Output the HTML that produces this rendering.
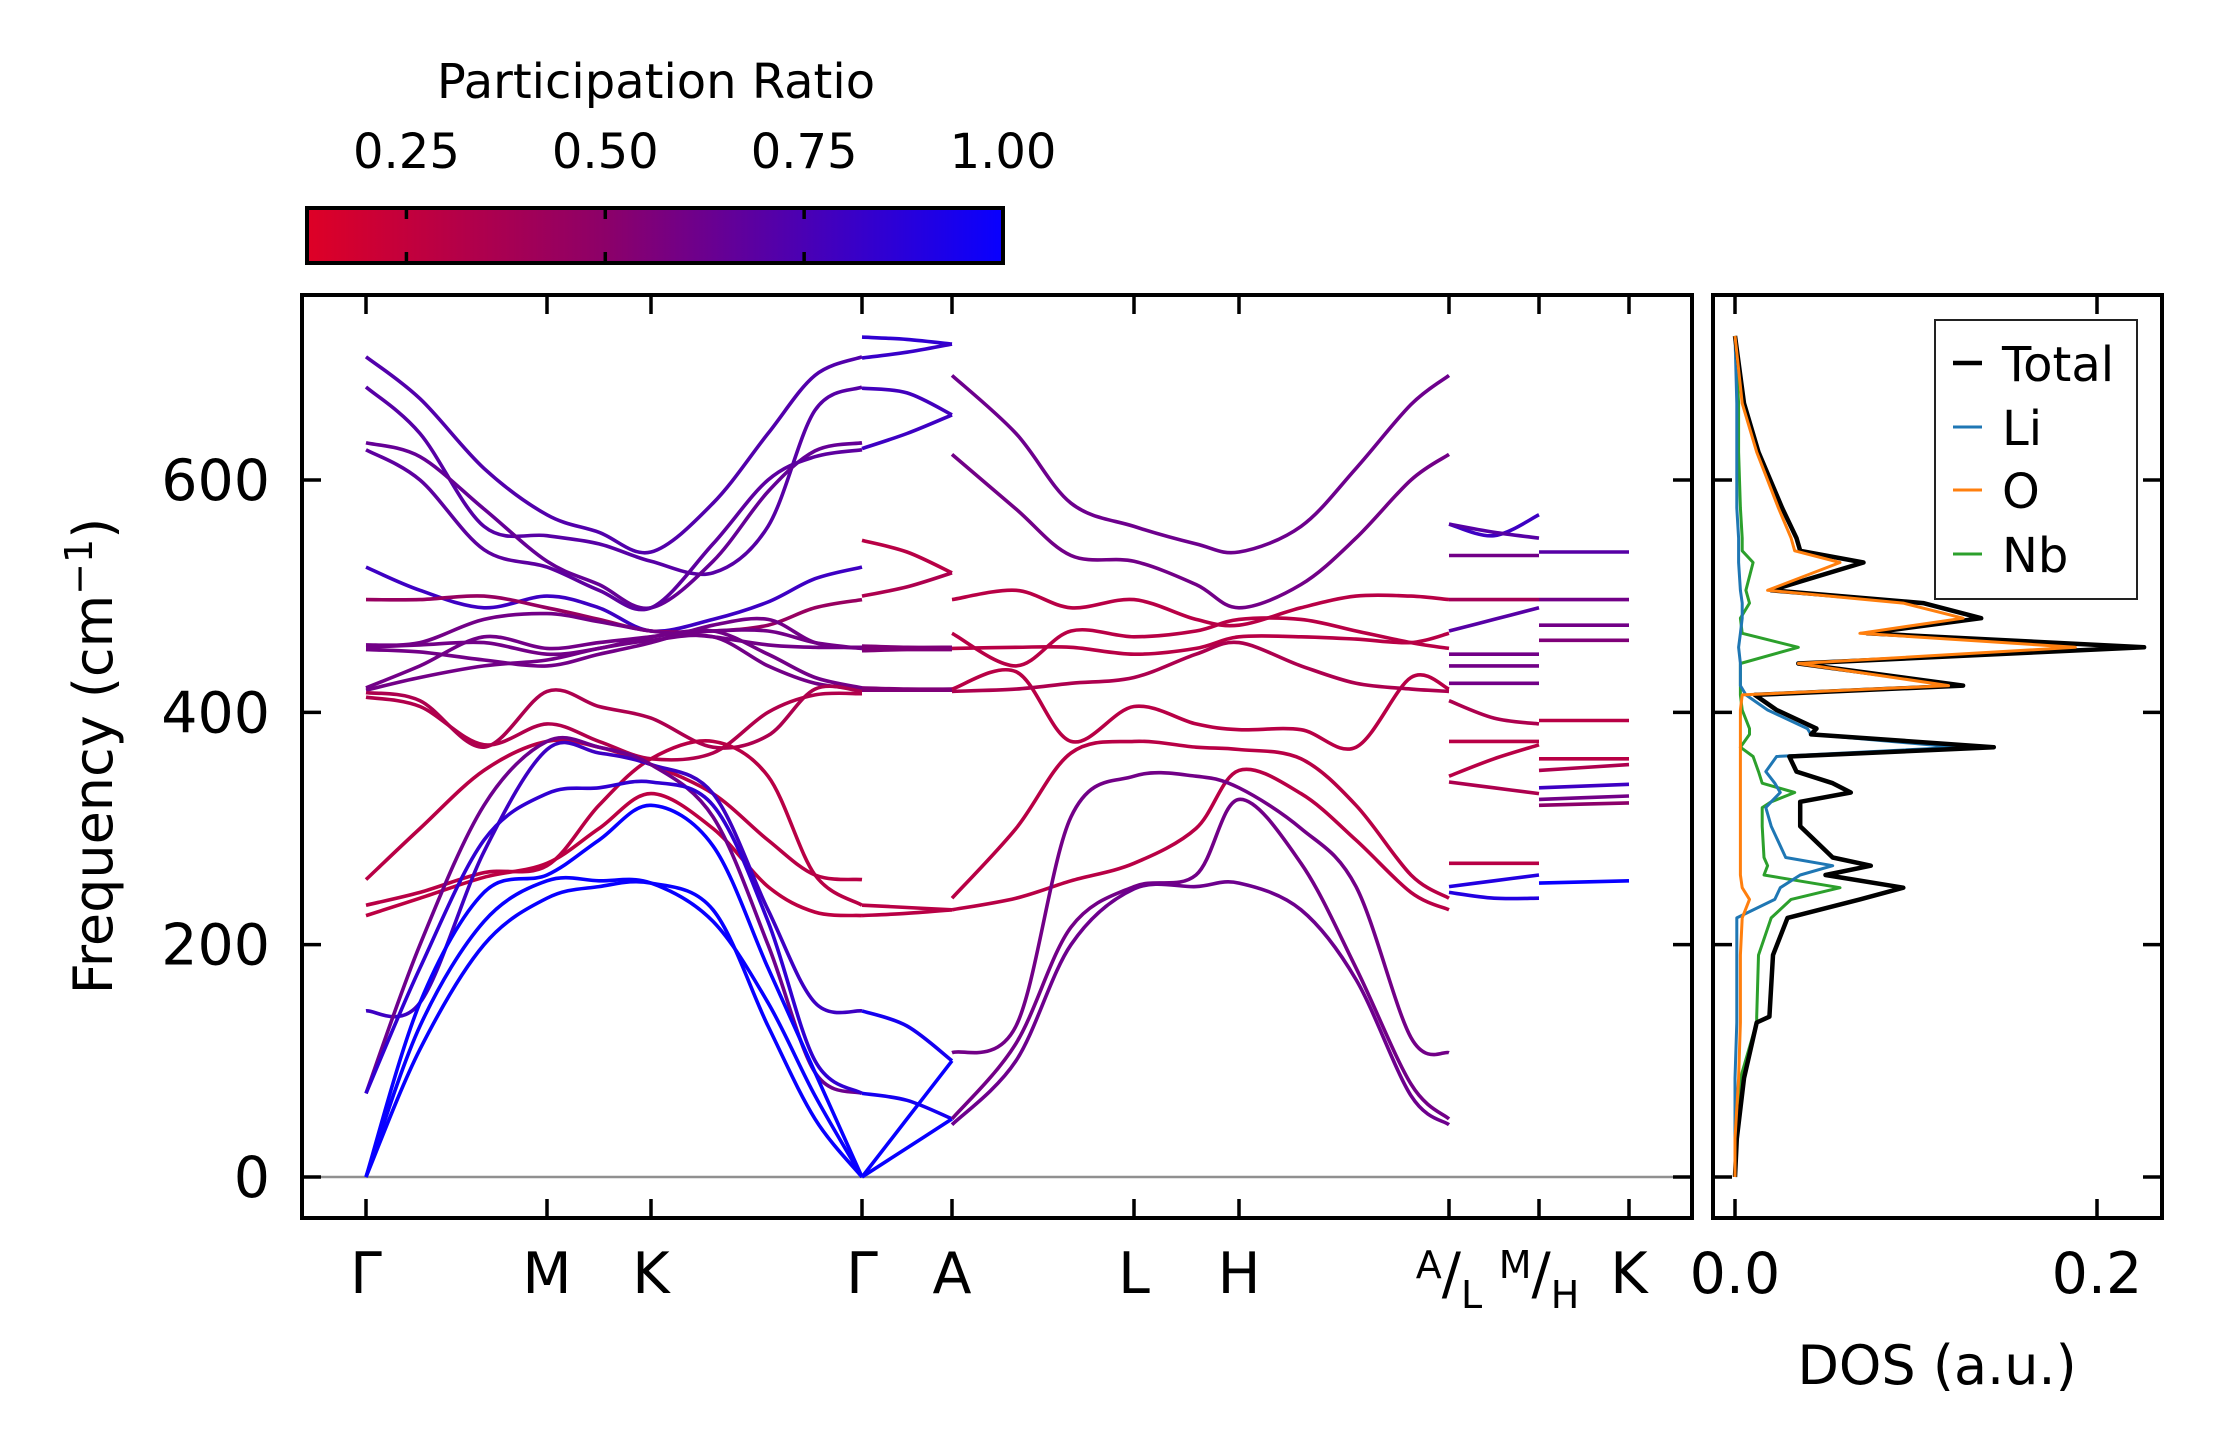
<!DOCTYPE html>
<html><head><meta charset="utf-8">
<style>
html,body{margin:0;padding:0;background:#fff;}
svg{display:block;font-family:"DejaVu Sans","Liberation Sans",sans-serif;}
</style></head>
<body>
<svg id="chart" width="2222" height="1455" viewBox="0 0 2222 1455" xmlns="http://www.w3.org/2000/svg">
<defs>
<linearGradient id="cbgrad" x1="0" x2="1" y1="0" y2="0">
<stop offset="0" stop-color="rgb(222,0,38)"/>
<stop offset="0.43" stop-color="rgb(140,0,105)"/>
<stop offset="1" stop-color="rgb(8,0,255)"/>
</linearGradient>
<clipPath id="clipMain"><rect x="302" y="295" width="1390" height="923"/></clipPath>
<clipPath id="clipDos"><rect x="1713" y="295" width="449" height="923"/></clipPath>
</defs>
<rect x="0" y="0" width="2222" height="1455" fill="#fff"/>

<text x="656" y="98" font-size="48" text-anchor="middle">Participation Ratio</text>
<g id="cb">
<rect x="307" y="208" width="696" height="55" fill="url(#cbgrad)" stroke="#000" stroke-width="4"/>
</g>
<g id="bands" clip-path="url(#clipMain)"></g>
<g id="dos" clip-path="url(#clipDos)"></g>
<g id="axes"></g>

<text transform="translate(112,756) rotate(-90)" font-size="54" text-anchor="middle">Frequency (cm<tspan dy="-20" font-size="38">−1</tspan><tspan dy="20">)</tspan></text>
<text x="1937" y="1384" font-size="54" text-anchor="middle">DOS (a.u.)</text>

<g>
<rect x="1935" y="320" width="202" height="279" fill="#fff" stroke="#222" stroke-width="2"/>
<line x1="1953" x2="1982" y1="363" y2="363" stroke="#000" stroke-width="4.5"/>
<text x="2002" y="381" font-size="48">Total</text>
<line x1="1953" x2="1982" y1="427" y2="427" stroke="#1f77b4" stroke-width="3"/>
<text x="2002" y="445" font-size="48">Li</text>
<line x1="1953" x2="1982" y1="490" y2="490" stroke="#ff7f0e" stroke-width="3"/>
<text x="2002" y="508" font-size="48">O</text>
<line x1="1953" x2="1982" y1="554" y2="554" stroke="#2ca02c" stroke-width="3"/>
<text x="2002" y="572" font-size="48">Nb</text>
</g>
</svg>
<script>
// ---- data ----
const kTickLabels = ["Γ","M","K","Γ","A","L","H","A/L","M/H","K"];
const kTicks = [0,181,285,496,586,768,873,1083,1173,1263];
const yTicks = [0,200,400,600];
const cbTicks = [0.25,0.5,0.75,1.0];
const cbTickLabels = ["0.25","0.50","0.75","1.00"];
const dosTicks = [0.0,0.2];
const dosTickLabels = ["0.0","0.2"];

// segment 1: Γ-M-K-Γ
const seg1K = [0,54,118,181,233,285,347,402,449,496];
const seg1Bands = [
[706,670,610,570,555,538,580,640,690,706],
[680,640,560,552,545,530,520,560,660,680],
[632,620,575,530,510,490,530,590,625,632],
[626,600,540,525,505,490,545,600,620,626],
[525,505,490,500,490,470,480,495,515,525],
[497,497,500,490,480,470,470,475,490,497],
[458,460,480,485,478,470,465,458,456,456],
[456,458,460,450,455,465,470,470,460,455],
[454,452,445,440,450,460,475,480,460,455],
[421,440,465,455,460,465,470,450,430,421],
[419,430,440,445,455,462,465,440,425,420],
[417,410,370,418,405,395,370,380,420,418],
[413,405,372,390,375,360,365,400,415,416],
[256,300,350,375,370,355,330,290,260,256],
[234,245,262,268,320,360,375,345,260,234],
[225,240,258,270,300,330,300,250,228,225],
[143,150,280,368,365,355,330,230,150,143],
[72,200,320,375,370,355,310,200,90,72],
[72,180,290,330,335,340,320,220,100,72],
[0,130,220,255,255,253,220,150,70,0],
[0,110,200,240,250,253,230,130,50,0],
[0,150,245,260,290,320,285,180,90,0]
];
const seg1PR = [0.72,0.7,0.65,0.68,0.8,0.45,0.6,0.6,0.6,0.6,0.6,0.35,0.33,0.3,0.3,0.28,0.8,0.62,0.85,1.0,1.0,1.0];

// segment 2: Γ-A
const seg2K = [496,541,586];
const seg2Bands = [
[723,721,717],[705,710,717],[679,675,656],[627,640,656],[548,538,520],[500,508,520],
[457,456,456],[455,455,455],[453,454,454],[421,420,420],[419,419,419],
[234,232,230],[225,227,230],[143,130,100],[72,66,50],[0,50,100],[0,25,50]
];
const seg2PR = [0.85,0.82,0.78,0.8,0.3,0.35,0.55,0.55,0.55,0.55,0.55,0.3,0.3,0.95,0.95,1.0,1.0];

// segment 3: A-L-H-A
const seg3K = [586,650,705,768,830,873,935,990,1045,1083];
const seg3Bands = [
[690,640,580,560,545,538,560,610,665,690],
[622,575,535,530,510,490,510,550,600,622],
[497,505,490,497,480,475,490,500,500,497],
[468,440,470,465,470,480,480,470,460,455],
[455,456,456,450,455,465,465,463,460,468],
[420,435,375,405,390,385,385,370,430,420],
[418,420,425,430,450,460,440,425,420,418],
[240,300,365,375,370,368,360,320,260,240],
[230,240,255,270,300,350,330,290,245,230],
[107,130,310,345,345,335,300,250,120,107],
[50,115,215,250,260,325,270,180,80,50],
[45,100,200,248,250,253,230,170,70,45]
];
const seg3PR = [0.62,0.6,0.3,0.3,0.3,0.3,0.35,0.3,0.3,0.6,0.6,0.62];

// segment 4: L-M
const seg4K = [1083,1128,1173];
const seg4Bands = [
[562,552,570],[562,555,550],[535,535,535],[497,497,497],[470,480,490],[450,450,450],
[440,440,440],[425,425,425],[410,395,390],[375,375,375],[345,360,372],[340,335,330],
[270,270,270],[250,255,260],[245,240,240]
];
const seg4PR = [0.8,0.7,0.6,0.4,0.7,0.6,0.6,0.6,0.35,0.3,0.3,0.35,0.3,0.9,0.9];

// segment 5: H-K
const seg5K = [1173,1263];
const seg5Bands = [
[538,538],[497,497],[475,475],[462,462],[393,393],[360,360],[350,355],[335,338],[325,328],[320,322],[253,255]
];
const seg5PR = [0.7,0.6,0.6,0.55,0.3,0.3,0.35,0.8,0.6,0.5,1.0];

// DOS
const dosFreq = [0,33,85,133,138,191,223,239,249,260,268,275,302,318,323,331,339,349,362,370,381,386,402,415,423,442,456,468,481,494,505,529,539,550,576,624,666,724];
const dosTotal = [0,0.001,0.005,0.012,0.019,0.021,0.029,0.069,0.093,0.050,0.075,0.054,0.036,0.036,0.036,0.064,0.054,0.034,0.030,0.143,0.042,0.045,0.023,0.011,0.126,0.035,0.226,0.073,0.136,0.104,0.020,0.071,0.036,0.034,0.026,0.013,0.005,0];
const dosLi = [0,0,0,0.001,0.001,0.001,0.001,0.022,0.025,0.036,0.054,0.028,0.020,0.017,0.020,0.025,0.022,0.017,0.023,0.123,0.042,0.040,0.018,0.006,0.003,0.003,0.002,0.003,0.004,0.004,0.003,0.002,0.002,0.002,0.001,0.001,0.001,0];
const dosO = [0,0,0.002,0.003,0.003,0.003,0.004,0.008,0.004,0.003,0.003,0.003,0.003,0.003,0.003,0.003,0.003,0.003,0.003,0.003,0.003,0.003,0.003,0.004,0.118,0.035,0.188,0.069,0.126,0.093,0.018,0.058,0.033,0.031,0.024,0.012,0.004,0];
const dosNb = [0,0.001,0.003,0.012,0.012,0.013,0.020,0.031,0.058,0.016,0.018,0.016,0.015,0.015,0.020,0.033,0.015,0.013,0.010,0.003,0.008,0.008,0.004,0.003,0.003,0.003,0.035,0.004,0.003,0.008,0.006,0.010,0.004,0.004,0.003,0.002,0.002,0];

// ---- scales ----
const NS = "http://www.w3.org/2000/svg";
const PL = 302, PR = 1692, PT = 295, PB = 1218, DL = 1713, DR = 2162;
function xK(k){ return 366 + k; }
function yF(f){ return 1177 - f * 1.1617; }
function xD(v){ return 1735 + v * 1810; }
function xCB(t){ return 307 + (t - 0.125) / 0.875 * 696; }
function prColor(t){
  const s = Math.max(0, Math.min(1, (t - 0.125) / 0.875));
  const a = [222,0,38], m = [140,0,105], b = [8,0,255];
  let c;
  if (s < 0.43) { const u = s / 0.43; c = a.map((v,i)=>v+(m[i]-v)*u); }
  else { const u = (s - 0.43) / 0.57; c = m.map((v,i)=>v+(b[i]-v)*u); }
  return "rgb(" + c.map(Math.round).join(",") + ")";
}
function mk(tag, attrs, parent){
  const e = document.createElementNS(NS, tag);
  for (const k in attrs) e.setAttribute(k, attrs[k]);
  parent.appendChild(e);
  return e;
}
function crPath(pts){
  let d = "M" + pts[0][0].toFixed(1) + "," + pts[0][1].toFixed(1);
  for (let i = 0; i < pts.length - 1; i++){
    const p0 = pts[i-1] || pts[i], p1 = pts[i], p2 = pts[i+1], p3 = pts[i+2] || pts[i+1];
    const c1 = [p1[0] + (p2[0]-p0[0])/6, p1[1] + (p2[1]-p0[1])/6];
    const c2 = [p2[0] - (p3[0]-p1[0])/6, p2[1] - (p3[1]-p1[1])/6];
    d += " C" + c1[0].toFixed(1) + "," + c1[1].toFixed(1) + " " + c2[0].toFixed(1) + "," + c2[1].toFixed(1) + " " + p2[0].toFixed(1) + "," + p2[1].toFixed(1);
  }
  return d;
}

const svg = document.getElementById("chart");
const gB = document.getElementById("bands");
const gD = document.getElementById("dos");
const gA = document.getElementById("axes");
const gCB = document.getElementById("cb");

// zero line
const zl = mk("line", {x1:PL, x2:PR, y1:yF(0), y2:yF(0), stroke:"#909090", "stroke-width":2.5}, gB);



// bands
const segs = [[seg1K,seg1Bands,seg1PR],[seg2K,seg2Bands,seg2PR],[seg3K,seg3Bands,seg3PR],[seg4K,seg4Bands,seg4PR],[seg5K,seg5Bands,seg5PR]];
segs.forEach((sg, si) => {
  const [ks, bands, prs] = sg;
  bands.forEach((vals, bi) => {
    const pts = vals.map((f, i) => [xK(ks[i]), yF(f)]);
    const p = mk("path", {d: crPath(pts), fill:"none", stroke: prColor(prs[bi]), "stroke-width":3.6, "stroke-linecap":"butt"}, gB);
    
    
  });
});

// DOS lines
const dosSeries = [[dosNb,"#2ca02c",3,"dos-nb-line"],[dosLi,"#1f77b4",3,"dos-li-line"],[dosTotal,"#000",4.5,"dos-total-line"],[dosO,"#ff7f0e",3,"dos-o-line"]];
dosSeries.forEach(s => {
  const pts = s[0].map((v,i) => xD(v).toFixed(1) + "," + yF(dosFreq[i]).toFixed(1)).join(" ");
  const pl = mk("polyline", {points: pts, fill:"none", stroke:s[1], "stroke-width":s[2], "stroke-linejoin":"round"}, gD);
  
  
});

// axes frames
const f1 = mk("rect", {x:PL, y:PT, width:PR-PL, height:PB-PT, fill:"none", stroke:"#000", "stroke-width":4}, gA);


const f2 = mk("rect", {x:DL, y:PT, width:DR-DL, height:PB-PT, fill:"none", stroke:"#000", "stroke-width":4}, gA);



const TL = 19;
// y ticks
yTicks.forEach(f => {
  const y = yF(f);
  [[PL, PL+TL],[PR, PR-TL],[DL, DL+TL],[DR, DR-TL]].forEach(xx => {
    const t = mk("line", {x1:xx[0], x2:xx[1], y1:y, y2:y, stroke:"#000", "stroke-width":3.5}, gA);
    
    
  });
  const lb = mk("text", {x:270, y:y+20, "font-size":57, "text-anchor":"end"}, gA);
  lb.textContent = String(f);
  
  
});
// k ticks
kTicks.forEach((k, i) => {
  const x = xK(k);
  [[PT, PT+TL],[PB, PB-TL]].forEach(yy => {
    const t = mk("line", {x1:x, x2:x, y1:yy[0], y2:yy[1], stroke:"#000", "stroke-width":3.5}, gA);
    
    
  });
  const lab = kTickLabels[i];
  const tx = mk("text", {x:x, y:1293, "font-size":57, "text-anchor":"middle"}, gA);
  
  
  if (lab.indexOf("/") >= 0) {
    const parts = lab.split("/");
    const a = mk("tspan", {"font-size":38, dy:-15}, tx); a.textContent = parts[0];
    const s = mk("tspan", {"font-size":57, dy:15}, tx); s.textContent = "/";
    const b = mk("tspan", {"font-size":38, dy:15}, tx); b.textContent = parts[1];
  } else {
    tx.textContent = lab;
  }
});
// dos ticks
dosTicks.forEach((v, i) => {
  const x = xD(v);
  [[PT, PT+TL],[PB, PB-TL]].forEach(yy => {
    const t = mk("line", {x1:x, x2:x, y1:yy[0], y2:yy[1], stroke:"#000", "stroke-width":3.5}, gA);
    
    
  });
  const lb = mk("text", {x:x, y:1293, "font-size":57, "text-anchor":"middle"}, gA);
  lb.textContent = dosTickLabels[i];
  
  
});
// colorbar ticks
cbTicks.forEach((t, i) => {
  const x = xCB(t);
  if (t < 1) {
    const a = mk("line", {x1:x, x2:x, y1:208, y2:219, stroke:"#000", "stroke-width":3.5}, gCB);
    
    
    const b = mk("line", {x1:x, x2:x, y1:252, y2:263, stroke:"#000", "stroke-width":3.5}, gCB);
    
    
  }
  const lb = mk("text", {x:x, y:168, "font-size":48, "text-anchor":"middle"}, gCB);
  lb.textContent = cbTickLabels[i];
  
  
});
</script>
</body></html>
